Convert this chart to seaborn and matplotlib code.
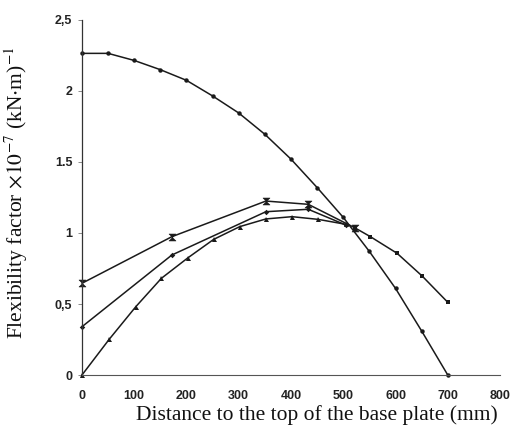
import matplotlib
matplotlib.use("Agg")
import matplotlib.pyplot as plt
from matplotlib.path import Path
import seaborn as sns

# Distance from the top of the base plate (mm) and flexibility factors
dist_a = [0, 50, 100, 150, 200, 250, 300, 350, 400, 450, 500, 550, 600, 650, 700]
flex_a = [2.265, 2.265, 2.215, 2.15, 2.075, 1.965, 1.845, 1.695, 1.52, 1.32,
          1.11, 0.87, 0.61, 0.31, 0.0]

dist_b = [0, 172, 352, 433, 522, 552, 603, 651, 700]
flex_b = [0.646, 0.974, 1.225, 1.202, 1.037, 0.974, 0.857, 0.697, 0.512]

dist_c = [0, 172, 352, 433, 505]
flex_c = [0.34, 0.845, 1.15, 1.167, 1.056]

dist_d = [0, 52, 103, 152, 203, 252, 302, 352, 402, 452, 505]
flex_d = [0.0, 0.251, 0.481, 0.681, 0.826, 0.955, 1.045, 1.099, 1.115, 1.096, 1.061]

x_ticks = [0, 100, 200, 300, 400, 500, 600, 700, 800]
y_ticks = [0, 0.5, 1, 1.5, 2, 2.5]
y_tick_labels = ["0", "0,5", "1", "1.5", "2", "2,5"]

sns.set_theme(style="white")
plt.rcParams["font.family"] = ["Liberation Sans", "DejaVu Sans"]
plt.rcParams["mathtext.fontset"] = "stix"

fig = plt.figure(figsize=(5.14, 4.30), dpi=100)
ax = fig.add_axes([0.1595, 0.1279, 0.8133, 0.8256])

hourglass = Path([(-1, 1), (1, 1), (-1, -1), (1, -1), (-1, 1)],
                 [Path.MOVETO, Path.LINETO, Path.LINETO, Path.LINETO, Path.CLOSEPOLY])

line_kw = dict(color="#1a1a1a", linewidth=1.1, ax=ax, estimator=None, sort=False,
               clip_on=False)

sns.lineplot(x=dist_a, y=flex_a, marker="o", markersize=3.2,
             markeredgewidth=0, **line_kw)
sns.lineplot(x=dist_b[:5], y=flex_b[:5], marker=hourglass, markersize=5,
             markeredgewidth=0.4, markeredgecolor="#1a1a1a", **line_kw)
sns.lineplot(x=dist_b[4:], y=flex_b[4:], marker="s", markersize=3,
             markeredgewidth=0, **line_kw)
sns.lineplot(x=dist_c, y=flex_c, marker="D", markersize=2.8,
             markeredgewidth=0, **line_kw)
sns.lineplot(x=dist_d, y=flex_d, marker="^", markersize=3.6,
             markeredgewidth=0, **line_kw)

ax.set_xlim(0, 800)
ax.set_ylim(0, 2.5)
ax.set_xticks(x_ticks)
ax.set_xticklabels([str(v) for v in x_ticks])
ax.set_yticks(y_ticks)
ax.set_yticklabels(y_tick_labels)

for side in ("top", "right"):
    ax.spines[side].set_visible(False)
ax.spines["left"].set_color("#333333")
ax.spines["left"].set_linewidth(0.9)
ax.spines["bottom"].set_color("#555555")
ax.spines["bottom"].set_linewidth(0.8)

ax.tick_params(axis="y", which="major", left=True, length=3, width=0.6,
               color="#777777", pad=4, labelsize=9)
ax.tick_params(axis="x", which="major", bottom=False, pad=5, labelsize=9)
for lab in ax.get_xticklabels() + ax.get_yticklabels():
    lab.set_fontweight("bold")
    lab.set_color("#222222")

ax.set_xlabel("Distance to the top of the base plate (mm)",
              family=["Liberation Serif"], fontsize=15.5, color="#111111")
ax.xaxis.set_label_coords(0.562, -0.085)
ax.set_ylabel(r"Flexibility factor $\times 10^{-7}$ (kN$\cdot$m)$^{-1}$",
              family=["Liberation Serif"], fontsize=15.5, color="#111111")
ax.yaxis.set_label_coords(-0.124, 0.513)

fig.savefig("out.png", dpi=100)
